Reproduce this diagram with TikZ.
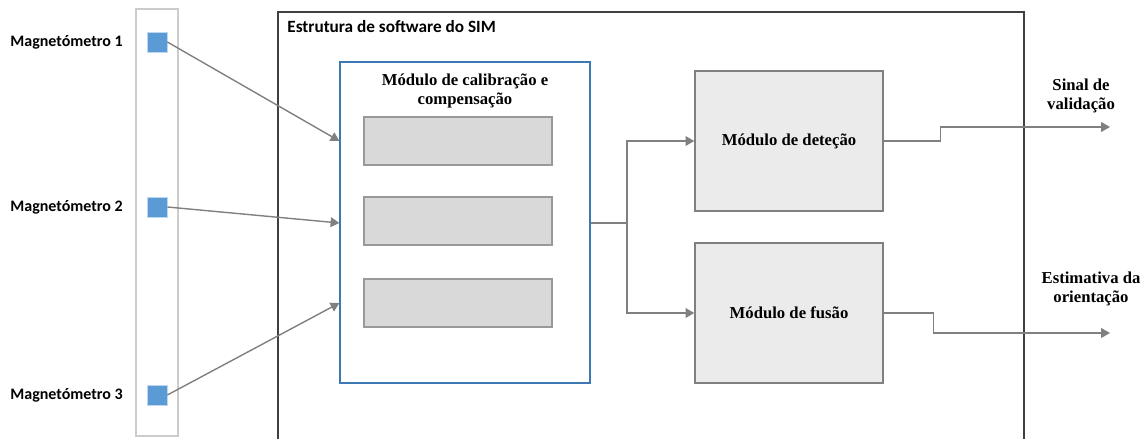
\documentclass[tikz,border=0pt]{standalone}
\usepackage{fontspec}
\setmainfont{Liberation Serif}
\newfontfamily\calibfont{Carlito}
\usetikzlibrary{arrows.meta}

\definecolor{sensorblue}{HTML}{5B9BD5}
\definecolor{calibblue}{HTML}{3C78B4}
\definecolor{linegray}{HTML}{808080}
\definecolor{boxgray}{HTML}{EBEBEB}
\definecolor{slotgray}{HTML}{D9D9D9}

\tikzset{
  sensor/.style={draw=sensorblue!40, fill=sensorblue, minimum size=0.4cm, inner sep=0pt},
  maglabel/.style={font=\calibfont\bfseries\fontsize{9.1}{11}\selectfont, anchor=east, inner sep=0pt},
  calib/.style={draw=calibblue, line width=0.7pt, minimum width=5cm, minimum height=6.42cm},
  slot/.style={draw=linegray!80, fill=slotgray, line width=0.8pt, minimum width=3.76cm, minimum height=0.96cm},
  module/.style={draw=linegray, fill=boxgray, line width=0.8pt, minimum width=3.76cm, minimum height=2.8cm,
    font=\bfseries\fontsize{9.5}{11}\selectfont},
  outlabel/.style={font=\bfseries\fontsize{9.5}{10.5}\selectfont, align=center},
  arr/.style={draw=linegray, line width=0.8pt, -{Triangle[length=5pt,width=5.5pt]}},
  wire/.style={draw=linegray, line width=0.8pt}
}

\begin{document}
\begin{tikzpicture}[x=0.02cm, y=-0.02cm]
		\useasboundingbox (0,0) rectangle (1142,439);
		% Sensor strip
		\draw[draw=black!20, line width=0.6pt] (136,9) rectangle (178,436);
		\node[sensor] (m1) at (157,42) {};
		\node[sensor] (m2) at (157,207) {};
		\node[sensor] (m3) at (157,395) {};
		\node[maglabel] (l1) at (123,42) {Magnetómetro 1};
		\node[maglabel] (l2) at (123,207) {Magnetómetro 2};
		\node[maglabel] (l3) at (123,395) {Magnetómetro 3};
		% Software structure frame
		\draw[draw=black!75, line width=1pt] (278,439) -- (278,12) -- (1024,12) -- (1024,439);
		\node[font=\calibfont\bfseries\fontsize{9.8}{11}\selectfont, anchor=west, inner sep=0pt] (sim) at (287,27) {Estrutura de software do SIM};
		% Calibration module
		\node[calib] (cal) at (465,222.5) {};
		\node[font=\bfseries\fontsize{9.5}{10.5}\selectfont, align=center] (caltitle) at (465,91) {Módulo de calibração e\\compensação};
		\node[slot] (c1) at (458,141) {};
		\node[slot] (c2) at (458,221) {};
		\node[slot] (c3) at (458,303) {};
		% Detection and fusion modules
		\node[module] (det) at (789,141) {Módulo de deteção};
		\node[module] (fus) at (789,313) {Módulo de fusão};
		% Outputs
		\coordinate (split) at (627,223);
		\coordinate (out1) at (1110,127);
		\coordinate (out2) at (1110,333);
		\node[outlabel] (sig) at (1081,96) {Sinal de\\validação};
		\node[outlabel] (est) at (1091,289) {Estimativa da\\orientação};
		% Connectors
		\draw[arr] (m1.east) -- (cal.west |- c1);
		\draw[arr] (m2.east) -- (cal.west |- split);
		\draw[arr] (m3.east) -- (cal.west |- c3);
		\draw[wire] (cal.east |- split) -- (split);
		\draw[arr] (split) |- (det.west);
		\draw[arr] (split) |- (fus.west);
		\draw[arr] (det.east) -- ++(57,0) |- (out1);
		\draw[arr] (fus.east) -- ++(50,0) |- (out2);
	\end{tikzpicture}
\end{document}
